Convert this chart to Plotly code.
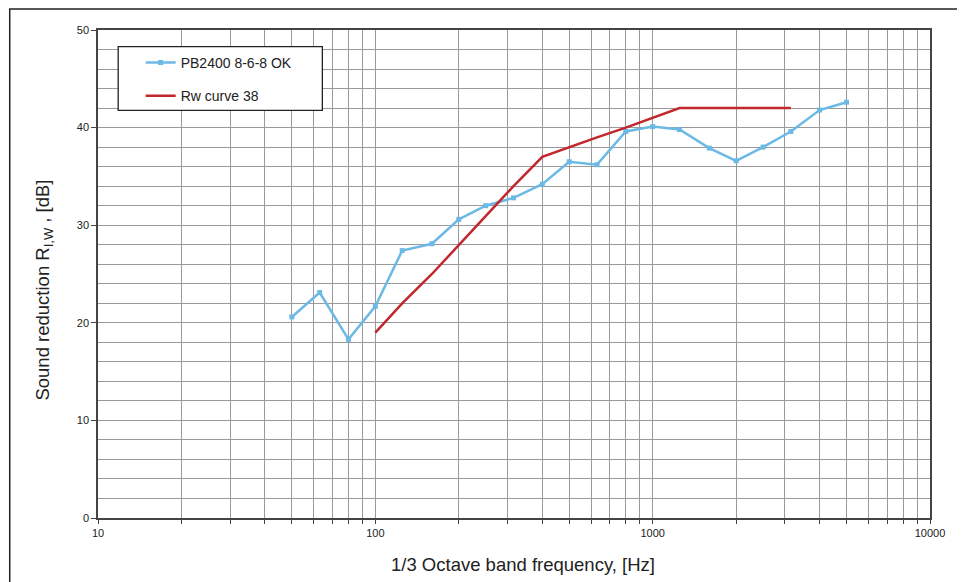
import plotly.graph_objects as go

freq = [50, 63, 80, 100, 125, 160, 200, 250, 315, 400, 500, 630, 800,
        1000, 1250, 1600, 2000, 2500, 3150, 4000, 5000]
pb2400 = [20.6, 23.1, 18.3, 21.7, 27.4, 28.1, 30.6, 32.0, 32.8, 34.2, 36.5,
          36.2, 39.6, 40.1, 39.8, 37.9, 36.6, 38.0, 39.6, 41.8, 42.6]
rw_freq = [100, 125, 160, 200, 250, 315, 400, 500, 630, 800, 1000, 1250,
           1600, 2000, 2500, 3150]
rw_curve = [19, 22, 25, 28, 31, 34, 37, 38, 39, 40, 41, 42, 42, 42, 42, 42]
x_major = [10, 100, 1000, 10000]
x_labels = ["10", "100", "1000", "10000"]
x_minor = [m * d for d in (10, 100, 1000) for m in range(2, 10)]

FONT = "Liberation Sans, Arial, sans-serif"
OFF = 8  # default page body margin
W, H = 965 - OFF, 582 - OFF
L, R, T, B = 98.3 - OFF, 930.5 - OFF, 30 - OFF, 518.3 - OFF


def px(xp):
    return (xp - OFF - L) / (R - L)


def py(yp):
    return (B - (yp - OFF)) / (B - T)


fig = go.Figure()
fig.add_trace(go.Scatter(
    x=freq, y=pb2400, mode="lines+markers", name="PB2400 8-6-8 OK",
    line=dict(color="#6cb9e6", width=2.5),
    marker=dict(symbol="square", size=5, color="#6cb9e6"),
    legendgroup="a"))
fig.add_trace(go.Scatter(
    x=rw_freq, y=rw_curve, mode="lines", name="Rw curve 38",
    line=dict(color="#c1272d", width=2.5), legendgroup="b"))

grid = "#9a9a9a"
fig.update_xaxes(
    type="log", range=[1, 4], tickmode="array", tickvals=x_major, ticktext=x_labels,
    showgrid=True, gridcolor=grid, gridwidth=1,
    ticks="outside", ticklen=4, tickcolor="#444",
    minor=dict(tickmode="array", tickvals=x_minor, showgrid=True, gridcolor=grid,
               gridwidth=1, ticks="outside", ticklen=4, tickcolor="#444"),
    showline=True, linecolor="#444", linewidth=1.5, mirror=True,
    tickfont=dict(family=FONT, size=11, color="#222"), zeroline=False,
)
fig.update_yaxes(
    range=[0, 50], dtick=10, showgrid=True, gridcolor=grid, gridwidth=1,
    ticks="outside", ticklen=5, tickcolor="#444",
    minor=dict(dtick=2, showgrid=True, gridcolor=grid, gridwidth=1),
    showline=True, linecolor="#444", linewidth=1.5, mirror=True,
    tickfont=dict(family=FONT, size=11, color="#222"), zeroline=False,
)

shapes = [
    # outer frame
    dict(type="rect", xref="paper", yref="paper",
         x0=px(10), x1=px(990), y0=py(600), y1=py(9),
         line=dict(color="#222", width=1.5), fillcolor="rgba(0,0,0,0)", layer="above"),
    # legend box
    dict(type="rect", xref="paper", yref="paper",
         x0=px(118.5), x1=px(322.7), y0=py(110.5), y1=py(46.7),
         line=dict(color="#222", width=1.3), fillcolor="white", layer="above"),
]

annotations = [
    dict(text="1/3 Octave band frequency, [Hz]", xref="paper", yref="paper",
         x=px(523.5), y=py(565), showarrow=False,
         font=dict(family=FONT, size=18.5, color="#222"), xanchor="center", yanchor="middle"),
    dict(text="Sound reduction R<sub>I,W</sub> , [dB]", xref="paper", yref="paper",
         x=px(44), y=py(290), showarrow=False, textangle=-90,
         font=dict(family=FONT, size=18.5, color="#222"), xanchor="center", yanchor="middle"),
]

fig.update_layout(
    width=W, height=H,
    margin=dict(l=L, r=W - R, t=T, b=H - B, pad=0),
    plot_bgcolor="white", paper_bgcolor="white",
    font=dict(family=FONT, color="#222"),
    showlegend=True,
    legend=dict(x=px(141), y=py(47), xanchor="left", yanchor="top",
                bgcolor="rgba(0,0,0,0)", borderwidth=0,
                font=dict(family=FONT, size=14, color="#222"),
                traceorder="grouped", tracegroupgap=12, itemwidth=30),
    shapes=shapes, annotations=annotations,
)

fig.write_html("out.html")
